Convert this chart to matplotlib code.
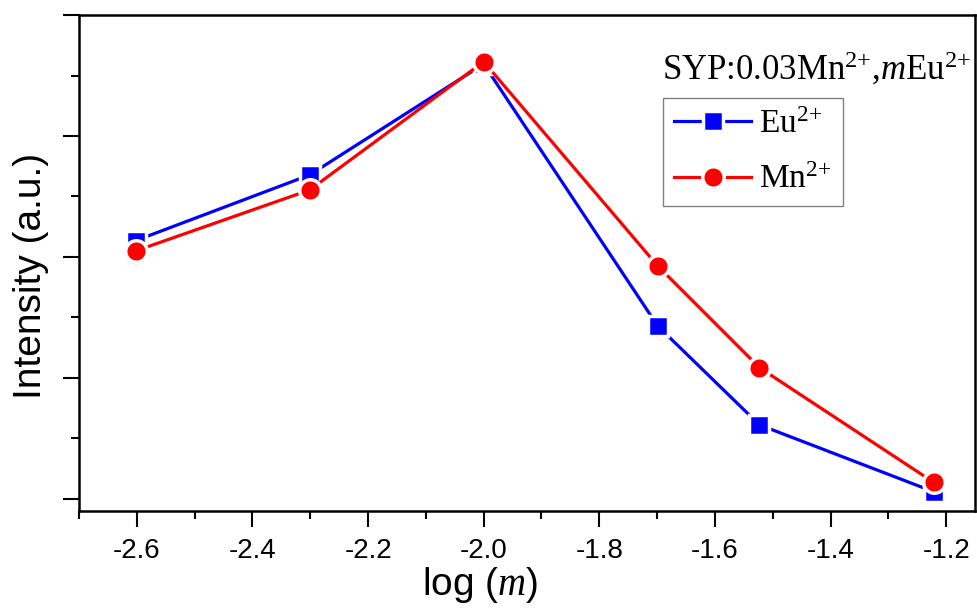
import numpy as np
import matplotlib
matplotlib.use('Agg')
import matplotlib.pyplot as plt
from matplotlib.ticker import MultipleLocator, NullFormatter

# Eu concentration m and log(m)
m_values = [0.0025, 0.005, 0.01, 0.02, 0.03, 0.06]
log_m = np.log10(m_values)

# intensities (arbitrary units)
eu_intensity = [2.135, 2.678, 3.595, 1.430, 0.612, 0.060]
mn_intensity = [2.050, 2.554, 3.614, 1.926, 1.085, 0.138]

series_labels = [r'Eu$^{2{+}}$', r'Mn$^{2{+}}$']
note_text = r'SYP:0.03Mn$^{2{+}}$,$m$Eu$^{2{+}}$'


def main():
    plt.rcParams['font.family'] = ['Liberation Sans', 'DejaVu Sans']
    plt.rcParams['mathtext.fontset'] = 'custom'
    plt.rcParams['mathtext.rm'] = 'Liberation Serif'
    plt.rcParams['mathtext.it'] = 'Liberation Serif:italic'

    fig = plt.figure(figsize=(9.77, 6.08), dpi=100)
    ax = fig.add_axes([0.0809, 0.1595, 0.9171, 0.8158])

    # lines with a white marker edge to give the gap around each symbol
    ax.plot(log_m, eu_intensity, color='#0000FF', lw=2.3, marker='s',
            ms=14.5, mfc='#0000FF', mec='white', mew=2.5, label=series_labels[0])
    ax.plot(log_m, mn_intensity, color='#FF0000', lw=2.3, marker='o',
            ms=15.5, mfc='#FF0000', mec='white', mew=2.5, label=series_labels[1])

    ax.set_xlim(-2.7, -1.15)
    ax.set_ylim(-0.1, 4.0)
    ax.xaxis.set_major_locator(MultipleLocator(0.2))
    ax.xaxis.set_minor_locator(MultipleLocator(0.1))
    ax.yaxis.set_major_locator(MultipleLocator(1))
    ax.yaxis.set_minor_locator(MultipleLocator(0.5))
    ax.yaxis.set_major_formatter(NullFormatter())
    ax.xaxis.set_major_formatter(plt.FuncFormatter(lambda v, p: f'{v:.1f}'))

    ax.tick_params(axis='both', which='major', direction='out', length=11.5,
                   width=1.5, labelsize=20, pad=8)
    ax.tick_params(axis='both', which='minor', direction='out', length=6,
                   width=1.5)
    ax.tick_params(top=False, right=False, which='both')
    for sp in ax.spines.values():
        sp.set_linewidth(1.8)

    ax.set_xlabel(r'log ($m$)', fontsize=28)
    ax.set_ylabel('Intensity (a.u.)', fontsize=28)
    ax.xaxis.set_label_coords(0.4475, -0.108)
    ax.yaxis.set_label_coords(-0.034, 0.474)

    ax.text(0.651, 0.869, note_text, transform=ax.transAxes, fontsize=25,
            family='Liberation Serif', ha='left', va='baseline')

    leg = ax.legend(loc='upper left', bbox_to_anchor=(0.652, 0.8327),
                    borderaxespad=0, prop={'family': 'Liberation Serif', 'size': 24},
                    handlelength=2.3, handletextpad=0.25, labelspacing=0.75,
                    borderpad=0.33, fancybox=False, framealpha=1)
    leg.get_frame().set_edgecolor('#808080')
    leg.get_frame().set_linewidth(1.0)

    fig.savefig('out.png', dpi=100)


if __name__ == '__main__':
    main()
